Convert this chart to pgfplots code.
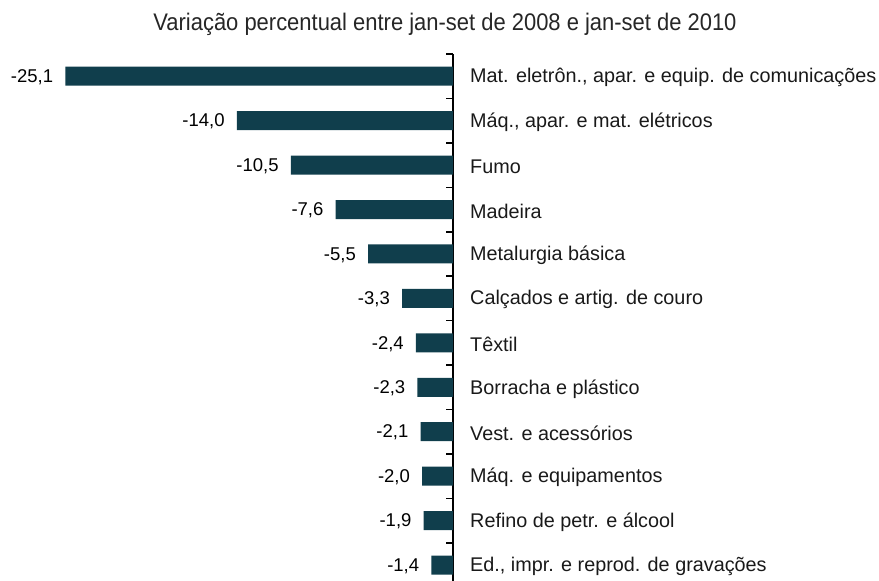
\documentclass[border=0pt]{standalone}
\usepackage{pgfplots}
\pgfplotsset{compat=1.18}
\usepackage{fontspec}
\setmainfont{Liberation Sans}
\newfontfamily\condfont[FakeStretch=0.915]{Liberation Sans}
\definecolor{barc}{RGB}{16,62,76}
\begin{document}
\begin{tikzpicture}
\begin{axis}[
  name=ax,
  scale only axis,
  width=451pt, height=527pt,
  xmin=-29.2, xmax=0,
  ymin=-0.5, ymax=11.36,
  y dir=reverse,
  axis x line=none,
  axis y line*=right,
  axis line style={line width=1.6pt, black},
  ytick={0,...,11},
  yticklabels={{Mat. eletrôn., apar. e equip. de comunicações},
    {Máq., apar. e mat. elétricos},
    Fumo, Madeira, Metalurgia básica, Calçados e artig. de couro,
    Têxtil, Borracha e plástico, Vest. e acessórios,
    Máq. e equipamentos, Refino de petr. e álcool,
    {Ed., impr. e reprod. de gravações}},
  major tick length=0pt,
  minor ytick={-0.5,0.5,...,11.5},
  minor tick length=7pt,
  tick align=inside,
  minor tick style={line width=1.6pt, black},
  yticklabel style={anchor=west, inner sep=0pt, xshift=17pt, yshift=-1.5pt, font=\fontsize{19.8}{22}\selectfont, text=black!90},
  clip=false,
]
\addplot[xbar, fill=barc, draw=none, bar width=19pt,
  nodes near coords={\pgfmathprintnumber[use comma, fixed, fixed zerofill, precision=1, assume math mode=true]{\pgfplotspointmeta}},
  point meta=x,
  nodes near coords style={anchor=base east, inner sep=0pt, xshift=-12pt, yshift=-6.2pt, font=\fontsize{18.5}{22}\selectfont, text=black},
] coordinates {
  (-25.1,0) (-14.0,1) (-10.5,2) (-7.6,3) (-5.5,4) (-3.3,5)
  (-2.4,6) (-2.3,7) (-2.1,8) (-2.0,9) (-1.9,10) (-1.4,11)
};
\end{axis}
\node[anchor=base, inner sep=0pt, font=\condfont\fontsize{24}{28}\selectfont, text=black!85] at ([xshift=443pt,yshift=23pt]ax.north west) {Variação percentual entre jan-set de 2008 e jan-set de 2010};
\pgfresetboundingbox
\path[use as bounding box] ([xshift=-2pt,yshift=54pt]ax.north west) rectangle ([xshift=426pt]ax.south east);
\end{tikzpicture}
\end{document}
